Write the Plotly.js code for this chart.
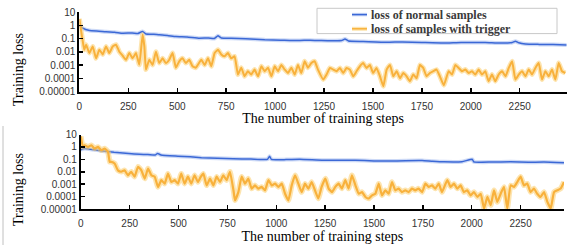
<!DOCTYPE html>
<html>
<head>
<meta charset="utf-8">
<script src="https://cdn.plot.ly/plotly-3.0.1.min.js"></script>
<style>html,body{margin:0;padding:0;background:#fff;}#chart{width:582px;height:247px;}</style>
</head>
<body>
<div id="chart"></div>
<script>
// ---------- data ----------
const xTickVals = [0, 250, 500, 750, 1000, 1250, 1500, 1750, 2000, 2250];
const yTickVals = [10, 1, 0.1, 0.01, 0.001, 0.0001, 0.00001];
const yTickText = ["10", "1", "0.1", "0.01", "0.001", "0.0001", "0.00001"];
const seriesNames = ["loss of normal samples", "loss of samples with trigger"];

// top panel
const topNormalSteps = [0,17,51,100,136,180,221,270,300,323,340,380,408,450,493,550,613,660,690,708,725,776,850,947,1030,1117,1180,1236,1300,1340,1357,1375,1450,1570,1650,1750,1859,1950,2074,2150,2211,2228,2245,2279,2350,2420,2490];
const topNormalLoss = [1.0,0.6,0.4,0.36,0.32,0.3,0.25,0.26,0.24,0.34,0.22,0.21,0.19,0.17,0.14,0.13,0.105,0.11,0.1,0.16,0.11,0.105,0.095,0.08,0.075,0.07,0.075,0.07,0.068,0.07,0.093,0.065,0.06,0.052,0.055,0.05,0.045,0.05,0.05,0.045,0.05,0.063,0.048,0.038,0.036,0.035,0.033];

const topTriggerSteps = [0,8,17,25,34,51,68,85,102,119,136,153,170,187,204,221,238,255,272,289,306,323,332,340,357,374,391,408,425,442,459,476,493,510,527,544,561,578,595,
623,640,657,674,691,708,725,742,759,776,793,810,827,844,861,878,895,913,930,947,964,981,998,1015,1032,1049,1066,1083,1100,1117,1134,1151,1168,1185,1202,1219,
1246,1263,1280,1297,1314,1331,1348,1365,1382,1399,1416,1433,1450,1467,1484,1501,1518,1536,1553,1570,1587,1604,1621,1638,1655,1672,1689,1706,1723,1740,1757,1774,1791,1808,1825,1842,
1862,1887,1904,1921,1938,1955,1972,1989,2006,2023,2040,2057,2074,2091,2108,2125,2142,2160,2177,2194,2211,2228,2245,2262,2279,2296,2313,2330,2347,2364,2381,2398,2415,2432,2449,2466,2483];
const topTriggerLoss = [3,0.45,0.063,0.014,0.034,0.008,0.025,0.0032,0.014,0.0063,0.025,0.008,0.025,0.034,0.01,0.005,0.0025,0.008,0.0032,0.008,0.00105,0.19,0.025,0.00045,0.0025,0.001,0.01,0.0014,0.0032,0.0014,0.0025,0.008,0.00063,0.0019,0.0032,0.0014,0.0025,0.0008,0.00063,
0.0025,0.001,0.0032,0.0008,0.008,0.014,0.0063,0.0045,0.008,0.0032,0.0045,0.00019,0.00063,0.00014,0.00034,0.00019,0.00045,0.00014,0.0008,0.00034,0.00063,0.00014,0.0008,0.00034,0.001,0.00045,0.00025,0.00063,0.00019,0.001,0.00025,0.0019,0.00063,0.0014,0.0019,0.00045,
0.00008,0.00019,0.0006,0.00045,0.00034,0.0006,0.00025,0.0006,0.00045,0.00014,0.00034,0.0008,0.0014,0.0006,0.001,0.00025,0.0006,0.00014,0.000025,0.00045,0.001,0.00014,0.00034,0.0001,0.00025,0.00014,0.00006,0.00019,0.0001,0.001,0.0006,0.00014,0.00025,0.00034,0.00045,0.00014,
0.00003,0.00034,0.00019,0.001,0.0006,0.00034,0.00045,0.00025,0.00034,0.00019,0.00045,0.00019,0.00034,0.00006,0.00019,0.00006,0.00019,0.00034,0.00014,0.0006,0.0019,0.00008,0.00019,0.00034,0.00014,0.00045,0.00019,0.0006,0.0014,0.00008,0.00034,0.00014,0.00045,0.00008,0.0014,0.00034,0.00025];

// bottom panel
const bottomNormalSteps = [0,20,100,170,260,330,380,393,410,497,560,617,700,780,870,955,966,975,1050,1120,1240,1320,1405,1500,1575,1660,1746,1800,1858,1950,2003,2010,2100,2199,2290,2370,2472];
const bottomNormalLoss = [0.6,0.74,0.5,0.37,0.28,0.25,0.22,0.3,0.22,0.18,0.16,0.135,0.12,0.11,0.105,0.1,0.18,0.1,0.095,0.1,0.083,0.085,0.083,0.075,0.072,0.078,0.08,0.07,0.063,0.065,0.1,0.063,0.06,0.063,0.058,0.06,0.052];

const bottomTriggerSteps = [0,11,20,37,54,71,88,105,122,139,148,156,173,190,207,224,241,258,275,293,310,327,344,361,378,395,412,429,446,463,480,497,514,531,548,565,582,599,
612,627,644,661,678,695,712,729,746,763,781,789,806,823,840,857,874,891,908,925,942,960,977,994,1011,1028,1045,1062,1079,1096,1113,1130,1147,1164,1181,1198,1215,1232,
1251,1268,1285,1302,1319,1336,1353,1370,1387,1405,1422,1439,1456,1473,1490,1507,1524,1541,1558,1575,1592,1609,1626,1643,1660,1677,1694,1711,1728,1746,1763,1780,1797,1814,1831,1848,
1875,1892,1909,1926,1943,1960,1977,1994,2011,2029,2046,2063,2080,2097,2114,2131,2148,2165,2182,2199,2216,2233,2250,2267,2284,2301,2318,2335,2352,2370,2387,2404,2421,2438,2455,2472];
const bottomTriggerLoss = [7,1.0,1.35,1.0,1.35,0.74,1.0,0.54,0.74,0.4,0.063,0.063,0.046,0.013,0.01,0.013,0.0052,0.01,0.004,0.025,0.013,0.0028,0.018,0.0052,0.004,0.0006,0.0021,0.0011,0.007,0.0015,0.0021,0.0011,0.007,0.0011,0.004,0.0011,0.0052,0.0015,
0.0035,0.007,0.0008,0.0028,0.0008,0.004,0.0015,0.0052,0.0021,0.01,0.00032,0.00005,0.00023,0.004,0.0011,0.0028,0.00044,0.0008,0.00044,0.0006,0.00032,0.0021,0.0008,0.0011,0.0006,0.0011,0.00017,0.00005,0.0008,0.0052,0.0011,0.00023,0.0011,0.00044,0.0015,0.00032,0.00007,0.0006,
0.0028,0.00044,0.00023,0.0006,0.0011,0.00044,0.0021,0.00044,0.0052,0.0008,0.00017,0.00023,0.000093,0.00007,0.000126,0.00017,0.0011,0.000126,0.00032,0.00017,0.0015,0.00032,0.00044,0.00023,0.00032,0.00023,0.00044,0.00032,0.00044,0.00023,0.0011,0.0006,0.0008,0.00044,0.0011,0.00023,
0.0021,0.0006,0.0011,0.00044,0.0008,0.00023,0.00032,0.000126,0.00023,0.000093,0.00017,0.000011,0.000093,0.00002,0.00032,0.000037,0.00017,0.0006,0.000011,0.0008,0.0006,0.0015,0.004,0.0008,0.0011,0.00023,0.00044,0.00017,0.000093,0.00023,0.000037,0.000011,0.00023,0.00032,0.00044,0.0015];

// ---------- styling ----------
const W = 582, H = 247;
const px = v => v / W;
const py = v => 1 - v / H;
const blue = "#3b68d6", blueGlow = "rgba(110,145,230,0.35)";
const orange = "#f8b13c", orangeGlow = "rgba(252,205,110,0.55)";

function series(x, y, xa, ya, color, glow, w, gw, name) {
  return [
    {x: x, y: y, xaxis: xa, yaxis: ya, type: "scatter", mode: "lines", hoverinfo: "skip",
     line: {color: glow, width: gw, shape: "spline", smoothing: 0.4}, showlegend: false},
    {x: x, y: y, xaxis: xa, yaxis: ya, type: "scatter", mode: "lines", name: name,
     line: {color: color, width: w, shape: "spline", smoothing: 0.4}, showlegend: false}
  ];
}

const data = [].concat(
  series(topNormalSteps, topNormalLoss, "x", "y", blue, blueGlow, 1.5, 4, seriesNames[0]),
  series(topTriggerSteps, topTriggerLoss, "x", "y", orange, orangeGlow, 2, 5, seriesNames[1]),
  series(bottomNormalSteps, bottomNormalLoss, "x2", "y2", blue, blueGlow, 1.5, 4, seriesNames[0]),
  series(bottomTriggerSteps, bottomTriggerLoss, "x2", "y2", orange, orangeGlow, 2.2, 5.5, seriesNames[1])
);

const tickFont = {family: "Liberation Sans, Arial, sans-serif", size: 10, color: "#333"};
const titleFont = {family: "Liberation Serif, Times New Roman, serif", size: 14, color: "#000"};
const legendFont = {family: "Liberation Serif, Times New Roman, serif", size: 12, color: "#3a3a3a"};

function xAxis(domain, range, anchor) {
  return {domain: domain, range: range, anchor: anchor, tickmode: "array", tickvals: xTickVals,
    ticks: "inside", ticklen: 4, tickwidth: 1.5, tickcolor: "#000", showline: true, linewidth: 2,
    linecolor: "#000", showgrid: false, zeroline: false, tickfont: tickFont, ticklabelstandoff: 4,
    fixedrange: true, automargin: false,
    title: {text: "The number of training steps", font: titleFont, standoff: 0}};
}
function yAxis(domain, anchor) {
  return {domain: domain, type: "log", range: [-5, 1], anchor: anchor, tickmode: "array",
    tickvals: yTickVals, ticktext: yTickText, ticks: "inside", ticklen: 4, tickwidth: 1.5,
    tickcolor: "#000", showline: true, linewidth: 2, linecolor: "#000", showgrid: false,
    zeroline: false, tickfont: tickFont, fixedrange: true, automargin: false};
}

const legendRow1 = 14.6, legendRow2 = 28.8;

const layout = {
  width: W, height: H, margin: {l: 0, r: 0, t: 0, b: 0},
  paper_bgcolor: "#fff", plot_bgcolor: "rgba(0,0,0,0)", showlegend: false, hovermode: false,
  xaxis: xAxis([px(79.4), px(566.7)], [0, 2490], "y"),
  yaxis: yAxis([py(91.5), py(12)], "x"),
  xaxis2: xAxis([px(80.8), px(564)], [0, 2472], "y2"),
  yaxis2: yAxis([py(209), py(134.5)], "x2"),
  shapes: [
    {type: "rect", xref: "paper", yref: "paper", x0: px(317), x1: px(557), y0: py(33.6), y1: py(8.3),
     line: {color: "#c8c8c8", width: 1}, fillcolor: "rgba(255,255,255,0.9)"},
    {type: "line", xref: "paper", yref: "paper", x0: px(352), x1: px(367), y0: py(legendRow1), y1: py(legendRow1),
     line: {color: blueGlow, width: 3.5}},
    {type: "line", xref: "paper", yref: "paper", x0: px(352), x1: px(367), y0: py(legendRow1), y1: py(legendRow1),
     line: {color: blue, width: 1.5}},
    {type: "line", xref: "paper", yref: "paper", x0: px(352), x1: px(367), y0: py(legendRow2), y1: py(legendRow2),
     line: {color: orangeGlow, width: 4}},
    {type: "line", xref: "paper", yref: "paper", x0: px(352), x1: px(367), y0: py(legendRow2), y1: py(legendRow2),
     line: {color: orange, width: 1.5}},
    {type: "line", xref: "paper", yref: "paper", x0: px(3), x1: px(3), y0: py(245), y1: py(126),
     line: {color: "#c0c0c0", width: 1}}
  ],
  annotations: [
    {xref: "paper", yref: "paper", x: px(370), y: py(legendRow1), xanchor: "left", yanchor: "middle",
     text: "<b>" + seriesNames[0] + "</b>", showarrow: false, borderpad: 0, font: legendFont},
    {xref: "paper", yref: "paper", x: px(370), y: py(legendRow2), xanchor: "left", yanchor: "middle",
     text: "<b>" + seriesNames[1] + "</b>", showarrow: false, borderpad: 0, font: legendFont},
    {xref: "paper", yref: "paper", x: px(18), y: py(70), xanchor: "center", yanchor: "middle",
     text: "Training loss", textangle: -90, showarrow: false, font: titleFont},
    {xref: "paper", yref: "paper", x: px(18), y: py(190), xanchor: "center", yanchor: "middle",
     text: "Training loss", textangle: -90, showarrow: false, font: titleFont}
  ]
};

Plotly.newPlot("chart", data, layout, {staticPlot: true, displayModeBar: false});
</script>
</body>
</html>
